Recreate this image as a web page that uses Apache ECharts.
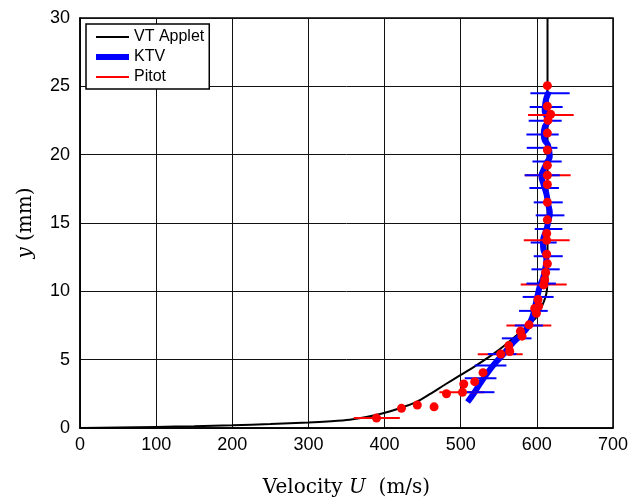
<!DOCTYPE html>
<html>
<head>
<meta charset="utf-8">
<script src="https://cdn.jsdelivr.net/npm/echarts@6/dist/echarts.min.js"></script>
<style>
html,body{margin:0;padding:0;background:#fff;}
#chart{width:643px;height:503px;}
</style>
</head>
<body>
<div id="chart"></div>
<script>
// VT Applet profile (U m/s, y mm)
const vtU = [0, 50, 100, 150, 200, 250, 300, 330, 354, 376, 398, 420, 442, 460, 480, 500, 520, 542, 560, 578, 590, 599.4, 607.7, 612.6, 614, 614];
const vtY = [0, 0.04, 0.08, 0.13, 0.2, 0.29, 0.4, 0.5, 0.61, 0.8, 1.08, 1.45, 1.91, 2.5, 3.2, 3.88, 4.57, 5.39, 6.15, 7.0, 7.6, 8.1, 9.04, 9.88, 11, 30];

// KTV profile
const ktvU = [509, 518, 526, 536, 546, 556, 568, 579, 587, 594, 599, 604, 608, 611, 612.5, 608.5, 608, 612.5, 614.6, 617, 614.6, 612.5, 608, 606, 608, 613, 617, 614.6, 610.3, 609, 610.3, 614.6, 612, 610.3, 611, 612.5, 616];
const ktvY = [1.9, 2.6, 3.3, 4.1, 4.8, 5.4, 6.2, 6.8, 7.3, 8.1, 9.2, 10.4, 10.95, 11.66, 12.37, 13.09, 13.68, 14.5, 15.0, 15.73, 16.44, 17.15, 17.96, 18.44, 18.8, 19.4, 19.86, 20.7, 21.06, 21.5, 22.0, 22.48, 22.9, 23.2, 23.7, 24.14, 24.62];

// KTV error bars: y, low U, high U
const ktvBarY  = [24.5, 23.48, 22.48, 21.48, 20.5, 19.5, 18.49, 17.56, 16.51, 15.56, 14.56, 13.57, 12.57, 11.61, 10.57, 9.59, 8.57, 7.5, 6.56, 5.41, 4.58, 3.64, 2.62];
const ktvBarLo = [591.5, 590.6, 589.3, 586.3, 586.7, 594.2, 584.1, 590.2, 595.9, 598.5, 597.2, 591.9, 595.9, 592.9, 586.3, 581.4, 576.6, 570.9, 554, 535.5, 518.4, 505.3, 505.3];
const ktvBarHi = [643.1, 633.9, 632.6, 628.7, 627, 632.6, 630, 629, 634, 636.2, 633.5, 626, 634, 630, 625, 622, 614.3, 608, 593, 573.2, 560, 546.9, 544.3];

// Pitot points
const pitotU = [613.8, 613.8, 618.2, 614.6, 613.8, 613.8, 613.8, 613.8, 613.8, 613.8, 613.8, 612.9, 612.9, 612.9, 613.8, 611.6, 610.3, 609, 601.5, 602.4, 597.2, 599.4, 589.7, 578.4, 580.5, 563.1, 564.4, 552.6, 529.3, 518.4, 504, 502.3, 481.3, 465, 443, 422.2, 389.4];
const pitotY = [25.05, 23.55, 22.95, 22.52, 21.58, 20.34, 19.22, 18.49, 17.82, 16.51, 15.23, 14.23, 13.73, 12.71, 12.02, 11.38, 10.83, 10.47, 9.4, 8.93, 8.74, 8.4, 7.55, 7.08, 6.72, 6.03, 5.6, 5.41, 4.05, 3.39, 3.22, 2.62, 2.51, 1.55, 1.68, 1.44, 0.73];

// Pitot error bars
const pitotBarY  = [22.9, 18.49, 13.73, 10.5, 7.5, 5.4, 2.62, 0.73];
const pitotBarLo = [588.4, 584, 582.8, 578.8, 560, 522.4, 472, 359.6];
const pitotBarHi = [648.4, 644.4, 643.1, 639.2, 619, 581.4, 531, 420];

const xTicks = [0, 100, 200, 300, 400, 500, 600, 700];
const yTicks = [0, 5, 10, 15, 20, 25, 30];

const zip = (a, b) => a.map((v, i) => [v, b[i]]);
const bars = (y, lo, hi) => y.map((v, i) => [v, lo[i], hi[i]]);

function barRenderer(color) {
  return function (params, api) {
    const y = api.value(0);
    const p1 = api.coord([api.value(1), y]);
    const p2 = api.coord([api.value(2), y]);
    return {
      type: 'line',
      shape: { x1: p1[0], y1: p1[1], x2: p2[0], y2: p2[1] },
      style: { stroke: color, lineWidth: 2 }
    };
  };
}

const chart = echarts.init(document.getElementById('chart'), null, { renderer: 'canvas' });
const serif = 'DejaVu Serif';
chart.setOption({
  animation: false,
  backgroundColor: '#fff',
  grid: { left: 80, right: 30, top: 18, bottom: 65, show: true, borderColor: '#000', borderWidth: 1.5, backgroundColor: '#fff' },
  legend: {
    left: 86, top: 24, orient: 'vertical',
    padding: [5, 5, 4, 7],
    itemWidth: 33, itemHeight: 2, itemGap: 4,
    borderColor: '#000', borderWidth: 1.5, backgroundColor: '#fff',
    selectedMode: false,
    textStyle: { fontFamily: 'Liberation Sans', fontSize: 16, color: '#000' },
    data: [
      { name: 'VT Applet', lineStyle: { width: 2, color: '#000' } },
      { name: 'KTV', lineStyle: { width: 6, color: '#0000ff' } },
      { name: 'Pitot', icon: 'rect', itemStyle: { color: '#ff0000', opacity: 1 } }
    ]
  },
  xAxis: {
    type: 'value', min: xTicks[0], max: xTicks[xTicks.length - 1], interval: 100,
    axisLine: { show: true, lineStyle: { color: '#000', width: 1.5 } },
    axisTick: { show: false },
    splitLine: { show: true, lineStyle: { color: '#111', width: 1 } },
    axisLabel: { fontFamily: 'Liberation Sans', fontSize: 18, color: '#000', margin: 8 },
    name: '{n|Velocity }{i|U}{n|  (m/s)}',
    nameLocation: 'middle', nameGap: 50,
    nameTextStyle: {
      rich: {
        n: { fontFamily: serif, fontSize: 20, color: '#000' },
        i: { fontFamily: serif, fontSize: 20, fontStyle: 'italic', color: '#000' }
      }
    }
  },
  yAxis: {
    type: 'value', min: yTicks[0], max: yTicks[yTicks.length - 1], interval: 5,
    axisLine: { show: true, lineStyle: { color: '#000', width: 1.5 } },
    axisTick: { show: false },
    splitLine: { show: true, lineStyle: { color: '#111', width: 1 } },
    axisLabel: { fontFamily: 'Liberation Sans', fontSize: 18, color: '#000', margin: 10 },
    name: '{i|y}{n| (mm)}',
    nameLocation: 'middle', nameGap: 44,
    nameTextStyle: {
      rich: {
        n: { fontFamily: serif, fontSize: 20, color: '#000' },
        i: { fontFamily: serif, fontSize: 20, fontStyle: 'italic', color: '#000' }
      }
    }
  },
  series: [
    {
      name: 'VT Applet', type: 'line', data: zip(vtU, vtY), symbol: 'none', smooth: 0.25,
      lineStyle: { color: '#000', width: 2 }, itemStyle: { color: '#000' }, z: 2
    },
    {
      name: 'KTV', type: 'line', data: zip(ktvU, ktvY), symbol: 'none', smooth: 0.4,
      lineStyle: { color: '#0000ff', width: 6 }, itemStyle: { color: '#0000ff' }, z: 3
    },
    {
      name: 'Pitot bars', type: 'custom', coordinateSystem: 'cartesian2d',
      data: bars(pitotBarY, pitotBarLo, pitotBarHi), encode: { x: [1, 2], y: 0 },
      renderItem: barRenderer('#ff0000'), z: 4
    },
    {
      name: 'KTV bars', type: 'custom', coordinateSystem: 'cartesian2d',
      data: bars(ktvBarY, ktvBarLo, ktvBarHi), encode: { x: [1, 2], y: 0 },
      renderItem: barRenderer('#0000ff'), z: 5
    },
    {
      name: 'Pitot', type: 'scatter', data: zip(pitotU, pitotY), symbol: 'circle', symbolSize: 9,
      itemStyle: { color: '#ff0000', opacity: 1 }, z: 6
    }
  ]
});
</script>
</body>
</html>
